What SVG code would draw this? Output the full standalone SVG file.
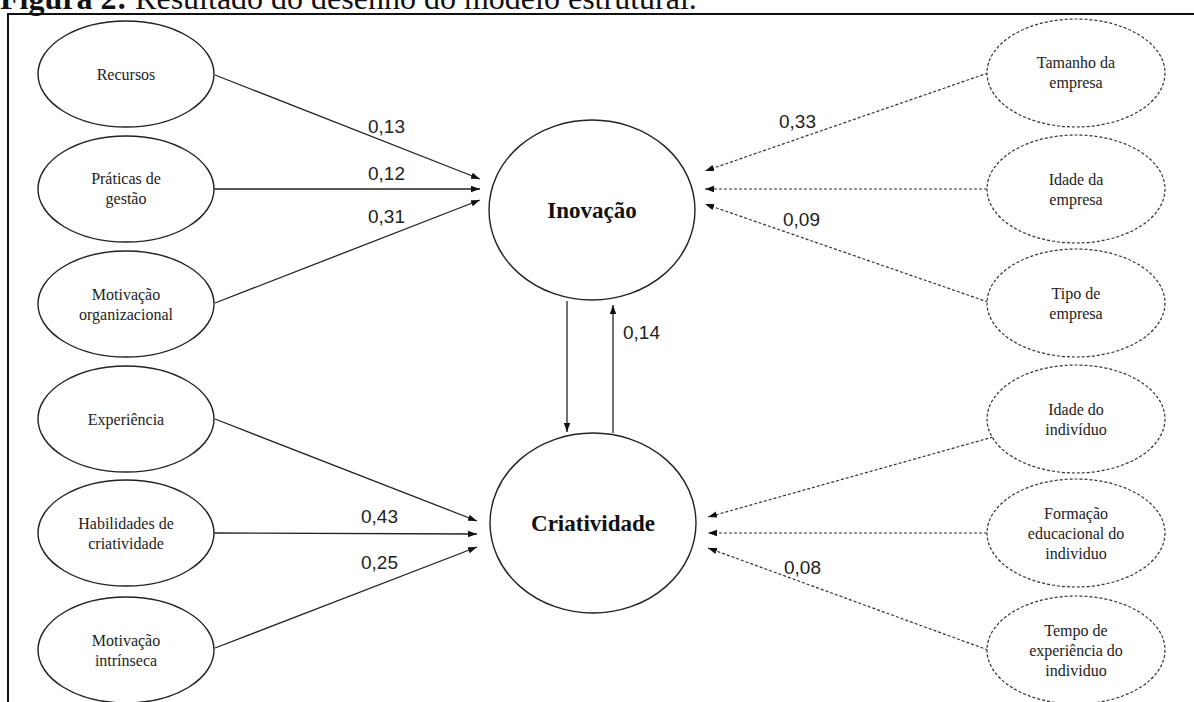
<svg xmlns="http://www.w3.org/2000/svg" width="1194" height="702" viewBox="0 0 1194 702">
<defs>
<style>
.bg{fill:#fff}
.frame{fill:none;stroke:#111;stroke-width:2}
.title{font-family:"Liberation Serif","Times New Roman",serif;font-size:32px;fill:#111}
.node{fill:#fff;stroke:#222;stroke-width:1.4}
.dnode{fill:#fff;stroke:#333;stroke-width:1.2;stroke-dasharray:3 2}
.lbl{font-family:"Liberation Serif","Times New Roman",serif;font-size:16px;fill:#222;text-anchor:middle}
.big{font-family:"Liberation Serif","Times New Roman",serif;font-size:23px;font-weight:bold;fill:#111;text-anchor:middle}
.edge{fill:none;stroke:#222;stroke-width:1.3;marker-end:url(#ah)}
.dedge{fill:none;stroke:#333;stroke-width:1.2;stroke-dasharray:3 2;marker-end:url(#ah)}
.w{font-family:"Liberation Sans",Arial,sans-serif;font-size:19px;fill:#222}
</style>
<marker id="ah" markerUnits="userSpaceOnUse" markerWidth="10" markerHeight="8" refX="9" refY="4" orient="auto">
<path d="M0,0.8 L9,4 L0,7.2 Z" fill="#111"/>
</marker>
</defs>
<rect class="bg" x="0" y="0" width="1194" height="702"/>
<text class="title" x="0" y="9"><tspan font-weight="bold">Figura 2:</tspan> Resultado do desenho do modelo estrutural.</text>
<path class="frame" d="M8,703 V14 H1195"/>

<g id="connectors">
<line class="edge" x1="215" y1="75" x2="480" y2="179"/>
<line class="edge" x1="214" y1="189" x2="480" y2="189"/>
<line class="edge" x1="215" y1="303" x2="480" y2="200"/>
<line class="edge" x1="215" y1="419" x2="477" y2="521"/>
<line class="edge" x1="214" y1="533" x2="477" y2="534"/>
<line class="edge" x1="215" y1="648" x2="477" y2="547"/>
<line class="dedge" x1="988" y1="73" x2="705" y2="171"/>
<line class="dedge" x1="987" y1="189" x2="705" y2="189"/>
<line class="dedge" x1="988" y1="302" x2="705" y2="204"/>
<line class="dedge" x1="993" y1="437" x2="708" y2="517"/>
<line class="dedge" x1="987" y1="533" x2="708" y2="533"/>
<line class="dedge" x1="988" y1="650" x2="708" y2="548"/>
<line class="edge" x1="567" y1="301" x2="567" y2="432"/>
<line class="edge" x1="613" y1="433" x2="613" y2="305"/>
<text class="w" x="368" y="133">0,13</text>
<text class="w" x="368" y="180">0,12</text>
<text class="w" x="368" y="223">0,31</text>
<text class="w" x="361" y="523">0,43</text>
<text class="w" x="361" y="569">0,25</text>
<text class="w" x="779" y="128">0,33</text>
<text class="w" x="783" y="226">0,09</text>
<text class="w" x="784" y="574">0,08</text>
<text class="w" x="623" y="339">0,14</text>
</g>

<g id="recursos"><ellipse class="node" cx="126" cy="74" rx="88" ry="53"/><text class="lbl" x="126" y="80">Recursos</text></g>
<g id="praticas"><ellipse class="node" cx="126" cy="189" rx="88" ry="53"/><text class="lbl" x="126" y="184">Práticas de</text><text class="lbl" x="126" y="204">gestão</text></g>
<g id="motivacao-org"><ellipse class="node" cx="126" cy="304" rx="88" ry="53"/><text class="lbl" x="126" y="300">Motivação</text><text class="lbl" x="126" y="320">organizacional</text></g>
<g id="experiencia"><ellipse class="node" cx="126" cy="419" rx="88" ry="53"/><text class="lbl" x="126" y="425">Experiência</text></g>
<g id="habilidades"><ellipse class="node" cx="126" cy="533" rx="88" ry="53"/><text class="lbl" x="126" y="529">Habilidades de</text><text class="lbl" x="126" y="549">criatividade</text></g>
<g id="motivacao-int"><ellipse class="node" cx="126" cy="650" rx="88" ry="53"/><text class="lbl" x="126" y="646">Motivação</text><text class="lbl" x="126" y="666">intrínseca</text></g>

<g id="inovacao"><ellipse class="node" cx="592" cy="210" rx="103" ry="90"/><text class="big" x="592" y="218">Inovação</text></g>
<g id="criatividade"><ellipse class="node" cx="593" cy="523" rx="103" ry="90"/><text class="big" x="593" y="531">Criatividade</text></g>

<g id="tamanho"><ellipse class="dnode" cx="1076" cy="73" rx="89" ry="54"/><text class="lbl" x="1076" y="68">Tamanho da</text><text class="lbl" x="1076" y="88">empresa</text></g>
<g id="idade-empresa"><ellipse class="dnode" cx="1076" cy="189" rx="89" ry="54"/><text class="lbl" x="1076" y="185">Idade da</text><text class="lbl" x="1076" y="205">empresa</text></g>
<g id="tipo"><ellipse class="dnode" cx="1076" cy="303" rx="89" ry="54"/><text class="lbl" x="1076" y="299">Tipo de</text><text class="lbl" x="1076" y="319">empresa</text></g>
<g id="idade-individuo"><ellipse class="dnode" cx="1076" cy="419" rx="89" ry="54"/><text class="lbl" x="1076" y="415">Idade do</text><text class="lbl" x="1076" y="435">indivíduo</text></g>
<g id="formacao"><ellipse class="dnode" cx="1076" cy="533" rx="89" ry="54"/><text class="lbl" x="1076" y="519">Formação</text><text class="lbl" x="1076" y="539">educacional do</text><text class="lbl" x="1076" y="559">individuo</text></g>
<g id="tempo"><ellipse class="dnode" cx="1076" cy="650" rx="89" ry="54"/><text class="lbl" x="1076" y="636">Tempo de</text><text class="lbl" x="1076" y="656">experiência do</text><text class="lbl" x="1076" y="676">individuo</text></g>
</svg>
